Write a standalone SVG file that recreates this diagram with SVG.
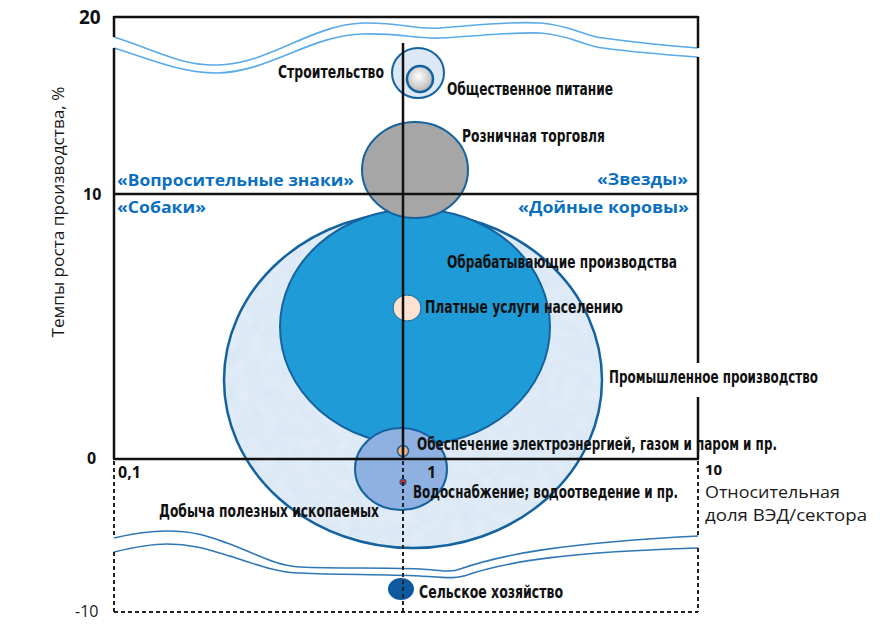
<svg xmlns="http://www.w3.org/2000/svg" width="886" height="632" viewBox="0 0 886 632">
<style>
.lbl{font-family:"Liberation Sans Narrow","DejaVu Sans Condensed","Roboto","Liberation Sans",sans-serif;font-weight:bold;font-size:17px;fill:#111}
.q{font-family:"Open Sans","Noto Sans","Liberation Sans",sans-serif;font-weight:bold;font-size:16px;fill:#0a6fc0}
.num{font-family:"Open Sans","Noto Sans","Liberation Sans",sans-serif;font-weight:bold;font-size:16px;fill:#111}
.reg{font-family:"Open Sans","Noto Sans","Liberation Sans",sans-serif;font-size:16px;fill:#1a1a1a}
.ax{stroke:#111;stroke-width:2.5;fill:none}
.dash{stroke:#222;stroke-width:2;fill:none;stroke-dasharray:4 3}
.wt{stroke:#5aaae6;stroke-width:1.6;fill:none}
.wb{stroke:#2f78b5;stroke-width:1.6;fill:none}
.edge{stroke:#15639e;stroke-width:2}
</style>
<defs>
<radialGradient id="sph" cx="0.45" cy="0.4" r="0.6">
<stop offset="0" stop-color="#ffffff"/>
<stop offset="1" stop-color="#b5b5b5"/>
</radialGradient>
<filter id="tex" x="0" y="0" width="1" height="1">
<feTurbulence type="fractalNoise" baseFrequency="0.08" numOctaves="3" seed="4" result="n"/>
<feColorMatrix in="n" type="matrix" values="0 0 0 0 0.80  0 0 0 0 0.87  0 0 0 0 0.95  0 0 0 -1.2 1.15" result="c"/>
<feComposite in="c" in2="SourceGraphic" operator="in"/>
</filter>
</defs>
<rect width="886" height="632" fill="#fff"/>

<g id="waves">
<path class="wt" d="M114,37 C150,48 180,66 217,65 C270,64 310,25 363,23 C400,22 415,30 440,28 C480,25 510,21 540,23 C570,25 585,36 603,38 C640,43 670,46 698,48"/>
<path class="wt" d="M114,48 C150,59 180,73 217,73 C270,72 310,35 363,34 C400,33 415,39 440,38 C480,36 510,32 540,33 C570,35 585,46 603,48 C640,53 670,55 698,57"/>
<path class="wb" d="M114,538 C135,533 150,531 167,531 C195,531 210,537 227,543 C255,553 275,566 300,567 C340,569 380,567 420,569 C440,570 450,573 460,569 C500,555 560,543 698,536"/>
<path class="wb" d="M114,552 C135,547 150,544 167,544 C195,544 212,551 233,557 C260,566 280,573 300,573 C340,575 380,574 420,576 C440,577 455,580 470,574 C510,561 570,552 698,548"/>
</g>

<g id="promyshlennoe">
<ellipse cx="413" cy="380" rx="189" ry="168" fill="#d8e6f4"/>
<ellipse cx="413" cy="380" rx="189" ry="168" fill="#d8e6f4" filter="url(#tex)" opacity="0.7"/>
<ellipse cx="413" cy="380" rx="189" ry="168" fill="none" stroke="#15639e" stroke-width="2.5"/>
</g>
<g id="obrabatyvayushchie">
<ellipse cx="415" cy="327" rx="135" ry="118" fill="#1f9cd8" class="edge"/>
</g>
<g id="roznichnaya">
<ellipse cx="415" cy="170" rx="53" ry="48" fill="#a6a6a6" class="edge"/>
</g>
<g id="stroitelstvo">
<ellipse cx="418" cy="73" rx="26" ry="25" fill="#dce8f6" class="edge"/>
</g>
<g id="obshchestvennoe">
<circle cx="420" cy="79" r="13" fill="url(#sph)" stroke="#15639e" stroke-width="2.5"/>
</g>
<g id="platnye">
<ellipse cx="407" cy="308" rx="14" ry="13" fill="#fde2cf" stroke="#15639e" stroke-width="1"/>
</g>
<g id="vodosnabzhenie">
<ellipse cx="401" cy="469" rx="46" ry="41" fill="#8eb1e1" class="edge"/>
</g>
<g id="elektro">
<circle cx="403" cy="451" r="5.5" fill="#f5b27a" stroke="#15639e" stroke-width="1.5"/>
</g>
<g id="vodo-dot">
<circle cx="403" cy="482" r="3" fill="#e02020" stroke="#15639e" stroke-width="1.2"/>
</g>
<g id="selskoe">
<ellipse cx="401" cy="589" rx="13" ry="11" fill="#0e5aa0"/>
</g>

<g id="connectors">
<line class="ax" x1="114" y1="17" x2="698" y2="17"/>
<line class="ax" x1="114" y1="16" x2="114" y2="37"/>
<line class="ax" x1="114" y1="48" x2="114" y2="459"/>
<line class="ax" x1="698" y1="16" x2="698" y2="48"/>
<line class="ax" x1="698" y1="57" x2="698" y2="363"/>
<line class="ax" x1="698" y1="397" x2="698" y2="459"/>
<line class="ax" x1="113" y1="194" x2="699" y2="194"/>
<line class="ax" x1="113" y1="459" x2="699" y2="459"/>
<line class="ax" x1="403" y1="43" x2="403" y2="459"/>
<line class="dash" x1="114" y1="461" x2="114" y2="538"/>
<line class="dash" x1="114" y1="552" x2="114" y2="612"/>
<line class="dash" x1="698" y1="461" x2="698" y2="536"/>
<line class="dash" x1="698" y1="548" x2="698" y2="612"/>
<line class="dash" x1="403" y1="461" x2="403" y2="612"/>
<line class="dash" x1="114" y1="612" x2="698" y2="612"/>
</g>

<g id="labels">
<text class="lbl" x="278" y="78" textLength="106" lengthAdjust="spacingAndGlyphs">Строительство</text>
<text class="lbl" x="447" y="95" textLength="166" lengthAdjust="spacingAndGlyphs">Общественное питание</text>
<text class="lbl" x="462" y="142" textLength="143" lengthAdjust="spacingAndGlyphs">Розничная торговля</text>
<text class="lbl" x="447" y="268" textLength="230" lengthAdjust="spacingAndGlyphs">Обрабатывающие производства</text>
<text class="lbl" x="425" y="313" textLength="198" lengthAdjust="spacingAndGlyphs">Платные услуги населению</text>
<text class="lbl" x="609" y="383" textLength="209" lengthAdjust="spacingAndGlyphs">Промышленное производство</text>
<text class="lbl" x="417" y="450" textLength="360" lengthAdjust="spacingAndGlyphs">Обеспечение электроэнергией, газом и паром и пр.</text>
<text class="lbl" x="413" y="498" textLength="265" lengthAdjust="spacingAndGlyphs">Водоснабжение; водоотведение и пр.</text>
<text class="lbl" x="159" y="517" textLength="220" lengthAdjust="spacingAndGlyphs">Добыча полезных ископаемых</text>
<text class="lbl" x="419" y="598" textLength="144" lengthAdjust="spacingAndGlyphs">Сельское хозяйство</text>

<text class="q" x="117" y="186" textLength="237" lengthAdjust="spacingAndGlyphs">«Вопросительные знаки»</text>
<text class="q" x="117" y="213" textLength="89" lengthAdjust="spacingAndGlyphs">«Собаки»</text>
<text class="q" x="597" y="185" textLength="91" lengthAdjust="spacingAndGlyphs">«Звезды»</text>
<text class="q" x="518" y="213" textLength="171" lengthAdjust="spacingAndGlyphs">«Дойные коровы»</text>

<text class="num" x="79" y="24" style="font-size:19px">20</text>
<text class="num" x="83" y="200">10</text>
<text class="num" x="87" y="464">0</text>
<text class="reg" x="75" y="617" style="font-size:16px">-10</text>
<text class="num" x="118" y="478">0,1</text>
<text class="num" x="427" y="478">1</text>
<text class="num" x="705" y="475" style="font-size:15px">10</text>
<text class="reg" x="705" y="498" textLength="135" lengthAdjust="spacingAndGlyphs" style="font-size:17px">Относительная</text>
<text class="reg" x="705" y="521" textLength="162" lengthAdjust="spacingAndGlyphs" style="font-size:17px">доля ВЭД/сектора</text>
<text class="reg" transform="translate(64,212) rotate(-90)" text-anchor="middle" textLength="251" lengthAdjust="spacingAndGlyphs">Темпы роста производства, %</text>
</g>
</svg>
